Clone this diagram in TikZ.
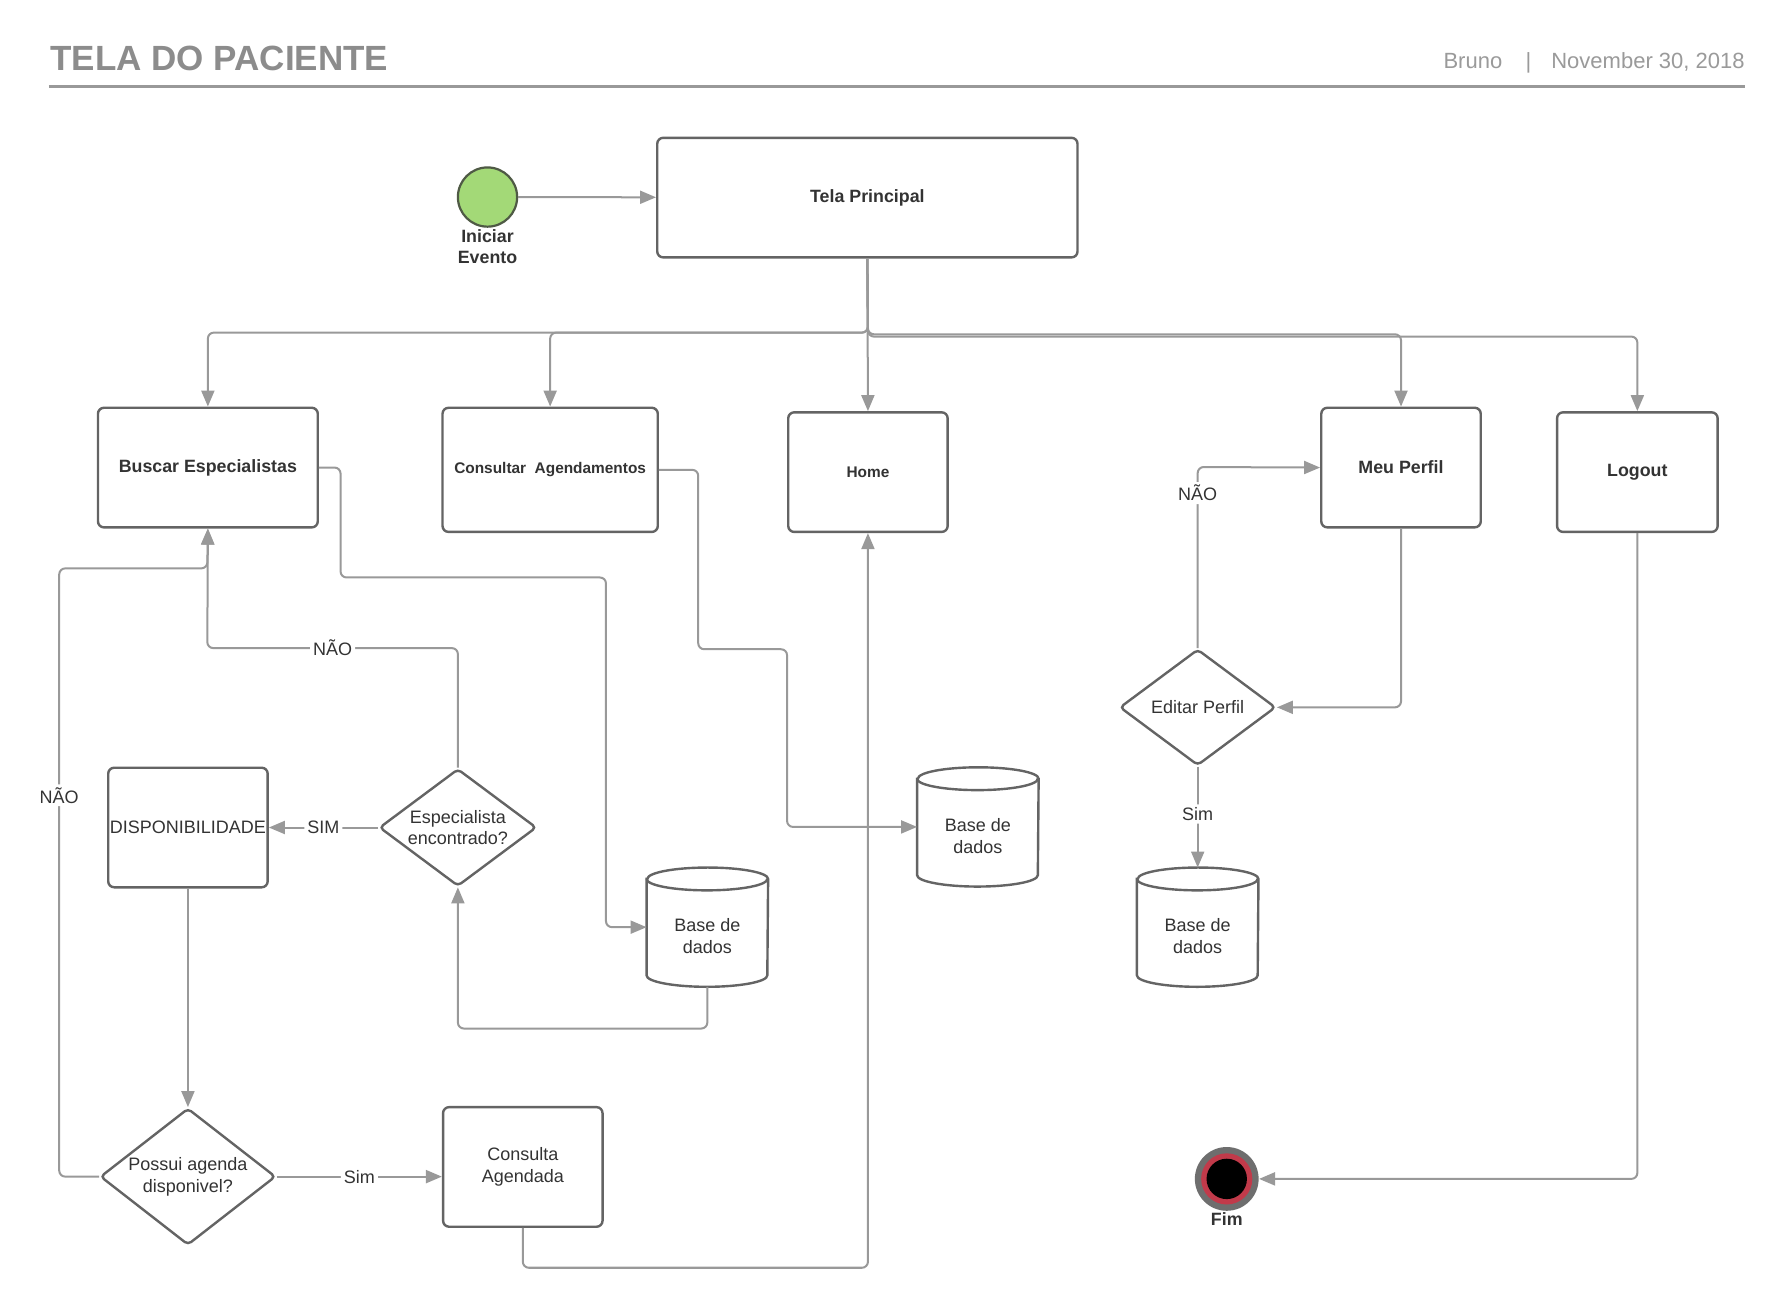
\documentclass[tikz,border=0pt]{standalone}
\usepackage{fontspec}
\setmainfont{Liberation Sans}
\usetikzlibrary{arrows.meta,shapes.geometric}
\definecolor{conncol}{HTML}{999999}
\definecolor{bordcol}{HTML}{646464}
\definecolor{txtcol}{HTML}{333333}
\definecolor{titlecol}{HTML}{8C8C8C}
\definecolor{datecol}{HTML}{9A9A9A}
\definecolor{startgreen}{HTML}{A3D977}
\definecolor{startborder}{HTML}{4F5A45}
\definecolor{fimred}{HTML}{C13A4A}
\definecolor{fimgray}{HTML}{6E6E6E}
\newcommand\drawcyl[1]{%
  \draw[draw=bordcol,line width=1.2pt,fill=white]
    ([yshift=-5.7pt]#1.north west) -- ([yshift=5.7pt]#1.south west)
    arc[start angle=180,end angle=360,x radius=30.18pt,y radius=5.7pt]
    -- ([yshift=-5.7pt]#1.north east)
    arc[start angle=0,end angle=180,x radius=30.18pt,y radius=5.7pt] -- cycle;
  \draw[draw=bordcol,line width=1.2pt]
    ([yshift=-5.7pt]#1.north west)
    arc[start angle=180,end angle=360,x radius=30.18pt,y radius=5.7pt];
  \node[cyltext] at ([yshift=-4.5pt]#1.center) {Base de\\dados};
}
\begin{document}
\begin{tikzpicture}[x=0.5694pt,y=-0.5694pt,
  sz/.style 2 args={minimum width=#1*0.5694pt, minimum height=#2*0.5694pt},
  box/.style={draw=bordcol, line width=1.2pt, rounded corners=3pt, inner sep=0pt, fill=white, text=txtcol, font=\fontsize{8.9}{10.7}\selectfont\bfseries, align=center},
  boxn/.style={box, font=\fontsize{9}{10.8}\selectfont},
  boxs/.style={box, font=\fontsize{7.7}{9.2}\selectfont\bfseries},
  dia/.style={diamond, draw=bordcol, line width=1.2pt, rounded corners=2pt, inner sep=0pt, fill=white, text=txtcol, font=\fontsize{9}{10.8}\selectfont, align=center},
  cylarea/.style={inner sep=0pt, sz={106}{104}},
  cyltext/.style={text=txtcol, font=\fontsize{9}{10.8}\selectfont, align=center},
  conn/.style={draw=conncol, line width=1pt, rounded corners=3pt, -{Triangle[length=8pt,width=6.5pt]}},
  elbl/.style={fill=white, inner sep=1.5pt, text=txtcol, font=\fontsize{9}{10.8}\selectfont},
  blbl/.style={text=txtcol, font=\fontsize{8.9}{10.7}\selectfont\bfseries, align=center, inner sep=0pt},
  headline/.style={draw=conncol, line width=1.1pt}
]
\fill[white] (0,0) rectangle (1568,1149);
\useasboundingbox (0,0) rectangle (1568,1149);

% header
\node[anchor=base west, text=titlecol, font=\fontsize{17.5}{21}\selectfont\bfseries, inner sep=0pt] (title) at (44,62) {TELA DO PACIENTE};
\node[anchor=base west, text=datecol, font=\fontsize{11}{13}\selectfont, inner sep=0pt] (author) at (1267,60) {Bruno};
\node[anchor=base, text=datecol, font=\fontsize{11}{13}\selectfont, inner sep=0pt] (sep) at (1342,60) {|};
\node[anchor=base east, text=datecol, font=\fontsize{11}{13}\selectfont, inner sep=0pt] (date) at (1532,60) {November 30, 2018};
\draw[headline] (43,76) -- (1532,76);

% nodes
\node[circle, fill=startgreen, draw=startborder, line width=1.1pt, minimum size=52*0.5694pt, inner sep=0pt] (start) at (428,173) {};
\node[blbl] (startlbl) at (428,216.5) {Iniciar\\Evento};
\node[box, sz={369}{105}] (tela) at (761.5,173.5) {Tela Principal};

\node[box, sz={193}{105}] (busca) at (182.5,410.5) {Buscar Especialistas};
\node[boxs, sz={189}{109}] (consultar) at (483,412.5) {Consultar~~Agendamentos};
\node[boxs, sz={140}{105}] (home) at (762,414.5) {Home};
\node[box, sz={140}{105}] (perfil) at (1230,410.5) {Meu Perfil};
\node[box, sz={141}{105}] (logout) at (1437.5,414.5) {Logout};

\node[boxn, sz={140}{105}] (disp) at (165,726.5) {DISPONIBILIDADE};
\node[dia, sz={138}{103}, aspect=1.34] (esp) at (402,726.5) {Especialista\\encontrado?};
\node[dia, sz={154}{120}, aspect=1.28] (possui) at (165,1033) {Possui agenda\\disponivel?};
\node[boxn, sz={140}{105}] (cons) at (459,1024.5) {Consulta\\Agendada};
\node[dia, sz={137}{102}, aspect=1.34] (edit) at (1051.5,621) {Editar Perfil};

\node[cylarea] (b1) at (621,814) {};
\node[cylarea] (b2) at (858.5,726) {};
\node[cylarea] (b3) at (1051.5,814) {};
\drawcyl{b1}
\drawcyl{b2}
\drawcyl{b3}

\node[circle, fill=fimgray, minimum size=56*0.5694pt, inner sep=0pt] (fim) at (1077,1035) {};
\fill[fimred] (fim.center) circle[radius=12.8pt];
\fill[black] (fim.center) circle[radius=10.1pt];
\node[blbl] (fimlbl) at (1077,1070) {Fim};

% connectors
\draw[conn] (start) -- (tela);
\coordinate (hubA) at (762,292);
\coordinate (hubB) at (762,293.5);
\coordinate (hubC) at (762,295.5);
\draw[conn] (tela.south) -- (hubA) -| (busca.north);
\draw[conn] (tela.south) -- (hubA) -| (consultar.north);
\draw[conn] (tela.south) -- (home.north);
\draw[conn] (tela.south) -- (hubB) -| (perfil.north);
\draw[conn] (tela.south) -- (hubC) -| (logout.north);

\draw[conn] (busca.east) -| (299,507) -- (532,507) -- (532,814) -- (b1.west);
\draw[conn] (b1.south) -- (621,903) -| (esp.south);
\draw[conn] (esp.north) -- (402,569) -- node[elbl]{NÃO} (182,569) -- (busca.south);
\draw[conn] (esp.west) -- node[elbl]{SIM} (disp.east);
\draw[conn] (disp.south) -- (possui.north);
\draw[conn] (possui.west) -- (52,1033) -- node[elbl, pos=0.627]{NÃO} (52,499) -- (182,499) -- (busca.south);
\draw[conn] (possui.east) -- node[elbl]{Sim} (cons.west |- possui.east);
\draw[conn] (cons.south) -- (459,1113) -- (762,1113) -- (home.south);
\draw[conn] (consultar.east) -| (613,570) -- (691,570) -- (691,726) -- (b2.west);
\draw[conn] (perfil.south) |- (edit.east);
\draw[conn] (edit.north) -- node[elbl, pos=0.856]{NÃO} (1051.5,410) -- (perfil.west);
\draw[conn] (edit.south) -- node[elbl, pos=0.47]{Sim} (b3.north);
\draw[conn] (logout.south) |- (fim.east);
\end{tikzpicture}
\end{document}
